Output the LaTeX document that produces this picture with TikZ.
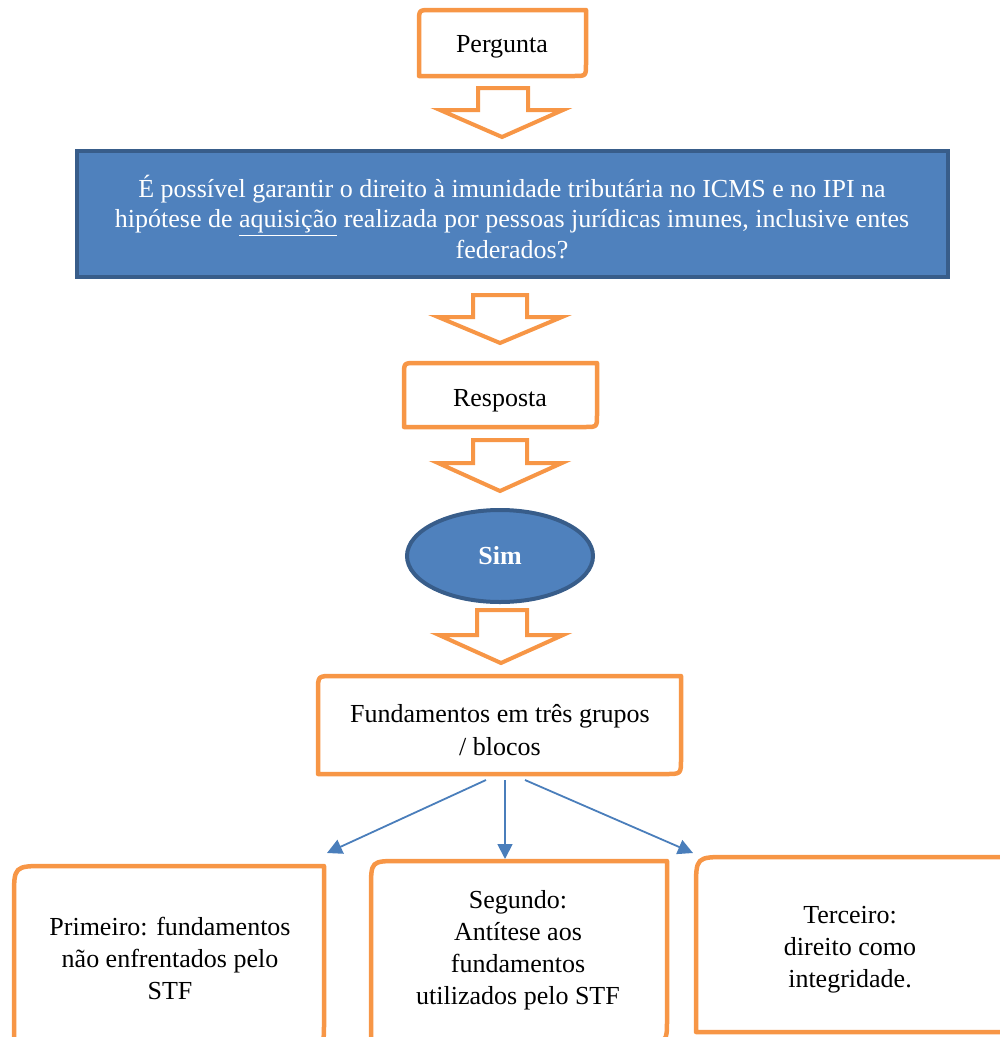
\documentclass[tikz,border=0pt]{standalone}
\usepackage{fontspec}
\setmainfont{Liberation Serif}
\usetikzlibrary{arrows.meta,shapes.geometric}
\definecolor{orng}{HTML}{F79646}
\definecolor{bfill}{HTML}{4F81BD}
\definecolor{bedge}{HTML}{385D8A}
\definecolor{bline}{HTML}{4A7EBB}
\newcommand{\dbox}[6]{%
  \draw[obox] (#1,#4) -- ({#1},{#2+#5}) .. controls (#1,#2) .. ({#1+#5},{#2}) -- (#3,#2)
    -- ({#3},{#4-#6}) .. controls (#3,#4) .. ({#3-#6},{#4}) -- cycle;}
\newcommand{\barrow}[8]{% a1 a2 top headtop b1 b2 tip mid
  \draw[oarrow] (#1,#3) -- (#2,#3) -- (#2,#4) -- (#6,#4) -- (#8,#7) -- (#5,#4) -- (#1,#4) -- cycle;}
\begin{document}
\begin{tikzpicture}[x=1pt,y=-1pt,
  obox/.style={draw=orng,line width=4.5pt,fill=white,line join=round},
  oarrow/.style={draw=orng,line width=4pt,fill=white,line join=miter},
  txt/.style={align=center,font=\fontsize{26}{32}\selectfont,inner sep=0pt},
  conn/.style={draw=bline,line width=1.8pt,-{Triangle[length=15pt,width=15pt]}}]
\useasboundingbox (0,0) rectangle (1000,1037);
% Pergunta
\dbox{419}{10}{586}{76}{12}{12}
\node[txt] (perg) at (502,47) {Pergunta};
\barrow{478}{528}{88}{110}{440}{563}{137}{502}
% question
\draw[fill=bfill,draw=bedge,line width=4pt] (77,151) rectangle (948,277);
\node[txt,text=white,font=\fontsize{26}{30.5}\selectfont] (quest) at (512,217) {É possível garantir o direito à imunidade tributária no ICMS e no IPI na\\hipótese de \underline{aquisição} realizada por pessoas jurídicas imunes, inclusive entes\\federados?};
\barrow{473}{527}{295}{317}{438}{562}{343}{500}
% Resposta
\dbox{404}{363}{597}{427}{12}{12}
\node[txt] (resp) at (500,401) {Resposta};
\barrow{473}{527}{440}{463}{438}{562}{491}{500}
% Sim
\node[ellipse,draw=bedge,fill=bfill,line width=4pt,minimum width=186pt,minimum height=92pt,inner sep=0pt] (sim) at (500,556) {};
\node[txt,text=white,font=\fontsize{26}{32}\selectfont\bfseries] (simt) at (500,556) {Sim};
\barrow{477}{527}{610}{635}{439}{563}{663}{501}
% Fundamentos
\dbox{318}{676}{681}{774}{15}{15}
\node[txt,font=\fontsize{26}{33}\selectfont] (fund) at (500,730) {Fundamentos em três grupos\\/ blocos};
% bottom boxes
\dbox{14}{866}{324}{1045}{32}{20}
\node[txt] (b1) at (170,958) {Primeiro: fundamentos\\não enfrentados pelo\\STF};
\dbox{371}{861}{667}{1042}{28}{22}
\node[txt] (b2) at (518,950) {Segundo:\\Antítese aos\\fundamentos\\utilizados pelo STF};
\dbox{696}{857}{1020}{1032}{32}{24}
\node[txt] (b3) at (850,950) {Terceiro:\\direito como\\integridade.};
% connectors
\coordinate (f1) at (486,780);
\coordinate (f2) at (505,780);
\coordinate (f3) at (525,780);
\coordinate (t1) at (327,853);
\coordinate (t2) at (505,859);
\coordinate (t3) at (693,853);
\draw[conn] (f1) -- (t1);
\draw[conn] (f2) -- (t2);
\draw[conn] (f3) -- (t3);
\end{tikzpicture}
\end{document}
